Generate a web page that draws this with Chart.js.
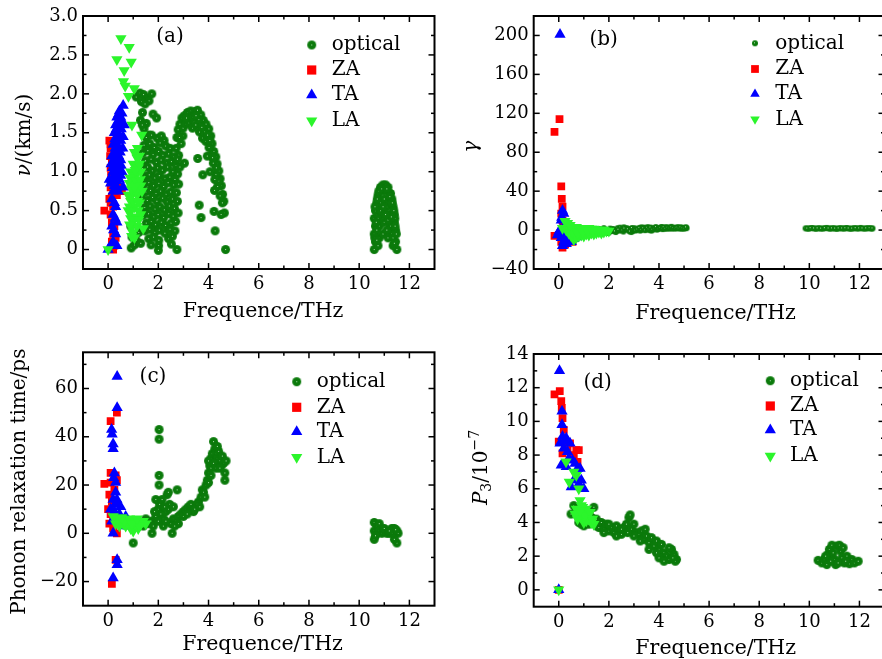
<!DOCTYPE html>
<html>
<head>
<meta charset="utf-8">
<script src="https://cdn.jsdelivr.net/npm/chart.js@4.4.0/dist/chart.umd.min.js"></script>
<style>
  html, body { margin: 0; padding: 0; background: #fff; overflow: hidden; width: 882px; height: 659px; }
  canvas { position: absolute; }
</style>
</head>
<body>
<canvas id="pa" width="441" height="330" style="left:0;top:0"></canvas>
<canvas id="pb" width="450" height="330" style="left:441px;top:0"></canvas>
<canvas id="pc" width="441" height="329" style="left:0;top:330px"></canvas>
<canvas id="pd" width="450" height="329" style="left:441px;top:330px"></canvas>
<script>
// ---- shared axis ticks ----
const freqTicks = [0, 2, 4, 6, 8, 10, 12];
const freqTickLabels = ['0', '2', '4', '6', '8', '10', '12'];
const vTicks = [0, 0.5, 1, 1.5, 2, 2.5, 3];
const vTickLabels = ['0', '0.5', '1.0', '1.5', '2.0', '2.5', '3.0'];
const gammaTicks = [-40, 0, 40, 80, 120, 160, 200];
const gammaTickLabels = ['\u221240', '0', '40', '80', '120', '160', '200'];
const tauTicks = [-20, 0, 20, 40, 60];
const tauTickLabels = ['\u221220', '0', '20', '40', '60'];
const p3Ticks = [0, 2, 4, 6, 8, 10, 12, 14];
const p3TickLabels = ['0', '2', '4', '6', '8', '10', '12', '14'];
const seriesNames = ['optical', 'ZA', 'TA', 'LA'];

// ---- (a) group velocity, [THz, km/s] ----
const opticalA = [
  [0.92,0.02],[1.05,0.06],[0.95,0.16],[1.12,0.12],[1.22,0.22],[0.9,0.3],[1.3,0.08],
  [1.12,1.96],[1.27,2.01],[1.41,1.99],[1.56,1.94],[1.74,2.0],[1.63,1.91],[1.33,1.9],[1.47,1.87],[1.37,1.76],
  [1.29,1.66],[1.52,1.62],[1.79,1.74],[1.93,1.69],[1.43,1.55],[1.61,1.47],[1.36,1.6],
  [1.52,1.44],[1.73,1.47],[1.96,1.43],[2.12,1.46],[2.23,1.4],
  [1.43,1.34],[1.66,1.36],[1.84,1.31],[2.07,1.37],[2.29,1.33],[2.47,1.3],
  [1.38,1.24],[1.58,1.27],[1.79,1.22],[2.01,1.26],[2.18,1.21],[2.41,1.23],[2.62,1.19],
  [1.49,1.14],[1.71,1.16],[1.92,1.12],[2.11,1.15],[2.33,1.11],[2.52,1.13],[2.71,1.08],
  [1.36,1.04],[1.57,1.06],[1.76,1.01],[1.97,1.05],[2.16,1.02],[2.37,1.06],[2.58,1.0],[2.77,0.97],
  [1.46,0.94],[1.64,0.96],[1.86,0.92],[2.04,0.95],[2.27,0.91],[2.46,0.93],[2.66,0.9],
  [1.41,0.84],[1.62,0.86],[1.81,0.82],[2.02,0.85],[2.21,0.81],[2.39,0.86],[2.61,0.83],[2.81,0.84],
  [1.51,0.74],[1.69,0.76],[1.91,0.72],[2.09,0.75],[2.31,0.71],[2.49,0.74],[2.72,0.73],
  [1.34,0.66],[1.56,0.63],[1.77,0.67],[1.94,0.62],[2.17,0.66],[2.36,0.61],[2.56,0.65],[2.76,0.62],
  [1.46,0.54],[1.67,0.56],[1.87,0.52],[2.06,0.55],[2.24,0.51],[2.44,0.56],[2.64,0.53],
  [1.39,0.44],[1.61,0.46],[1.82,0.42],[1.99,0.45],[2.21,0.41],[2.42,0.46],[2.59,0.43],[2.79,0.47],
  [1.52,0.34],[1.72,0.36],[1.89,0.32],[2.12,0.35],[2.29,0.31],[2.51,0.34],[2.69,0.36],
  [1.47,0.24],[1.66,0.26],[1.86,0.22],[2.04,0.25],[2.26,0.21],[2.47,0.26],[2.66,0.24],
  [1.62,0.14],[1.81,0.16],[2.02,0.12],[2.41,0.14],[2.56,0.17],
  [1.71,0.06],[2.01,0.05],[2.52,0.07],[2.0,-0.01],[2.74,0.0],
  [2.71,1.3],[2.74,1.44],[2.79,1.54],[2.86,1.61],[2.94,1.69],[3.04,1.72],[3.16,1.76],[3.29,1.78],[3.44,1.77],
  [3.56,1.79],[3.69,1.73],[3.79,1.66],[3.9,1.61],[4.01,1.55],[4.09,1.46],[4.14,1.36],[4.21,1.26],[4.29,1.19],
  [4.34,1.1],[4.41,1.01],[4.46,0.91],[4.51,0.82],[4.56,0.71],[4.61,0.62],[4.63,0.47],[4.68,0.0],
  [2.99,1.56],[3.1,1.61],[3.21,1.63],[3.36,1.56],[3.49,1.6],[3.64,1.51],[3.76,1.43],[3.89,1.39],[4.02,1.31],
  [4.11,1.21],[4.19,1.11],[4.29,0.96],[4.36,0.81],[4.46,0.69],
  [2.81,1.21],[2.86,1.06],[2.91,1.36],[3.04,1.11],[3.57,1.17],[3.77,0.96],[3.63,0.57],[3.7,0.41],[4.22,0.49],
  [4.26,0.24],[2.98,1.46],[3.26,1.68],[3.61,1.67],[3.84,1.51],[4.06,1.0],[4.24,0.76],[4.5,0.45],[2.76,1.16],
  [3.12,1.69],[3.39,1.7],[3.73,1.57],[3.96,1.47],[4.16,1.18],[4.31,1.05],[4.4,0.88],[2.84,1.44],[4.55,0.6],
  [3.5,1.72],[3.95,1.2],[4.05,1.4],[4.25,0.9],
  [10.6,0.0],[10.65,0.1],[10.6,0.2],[10.65,0.3],[10.6,0.4],[10.65,0.5],[10.7,0.6],[10.75,0.7],[10.85,0.8],
  [10.95,0.83],[11.05,0.83],[11.15,0.8],[11.25,0.72],[11.3,0.65],[11.35,0.55],[11.4,0.45],[11.4,0.35],
  [11.45,0.25],[11.45,0.1],[11.5,0.0],[11.35,0.05],[10.75,0.05],[10.8,0.15],[10.8,0.3],[10.9,0.45],
  [10.85,0.6],[11.0,0.65],[11.1,0.55],[11.2,0.45],[11.25,0.3],[11.3,0.2],[11.0,0.35],[10.95,0.2],
  [11.1,0.25],[11.15,0.15],[10.75,0.4],[11.0,0.75],[11.2,0.6],[10.7,0.25],[11.35,0.15],
  [10.62,0.15],[10.68,0.35],[10.63,0.55],[10.72,0.65],[10.78,0.75],[10.9,0.78],[11.1,0.78],[11.22,0.68],
  [11.32,0.6],[11.38,0.5],[11.42,0.4],[11.43,0.3],[11.48,0.2],[11.4,0.08],[10.7,0.12],[10.85,0.5],
  [11.15,0.38],[11.28,0.42],[10.95,0.55],[11.05,0.45]
];
const zaA = [
  [-0.15,0.5],[0.05,0.65],[0.1,0.6],[0.15,0.68],[0.2,0.55],[0.1,0.45],[0.15,0.35],[0.2,0.2],[0.15,0.1],
  [0.25,0.05],[0.2,0.0],[0.1,0.8],[0.12,0.95],[0.1,1.05],[0.08,1.2],[0.1,1.3],[0.05,1.4],[0.15,1.15],
  [0.2,0.9],[0.3,0.85],[0.45,0.8],[0.55,0.75],[0.35,0.7],[0.25,0.3],[0.3,0.15],[0.1,1.35]
];
const taA = [
  [0.0,0.0],[0.1,0.05],[0.35,0.05],[0.2,0.1],[0.3,0.2],[0.15,0.3],[0.2,0.45],[0.3,0.55],[0.25,0.6],
  [0.2,0.75],[0.35,0.8],[0.6,0.8],[0.05,0.9],[0.15,0.9],[0.3,0.95],[0.45,0.9],[0.2,1.0],[0.4,1.05],
  [0.55,1.0],[0.25,1.1],[0.35,1.15],[0.5,1.15],[0.15,1.2],[0.3,1.25],[0.45,1.3],[0.2,1.35],[0.35,1.4],
  [0.5,1.4],[0.25,1.5],[0.4,1.5],[0.6,1.45],[0.3,1.6],[0.45,1.6],[0.35,1.7],[0.5,1.7],[0.45,1.78],
  [0.6,1.85],[0.55,1.75],[0.4,1.65],[0.65,1.6],[0.28,1.3],[0.42,1.2],[0.18,1.05],[0.5,0.95],[0.1,0.85],
  [0.22,1.12],[0.32,1.02],[0.38,1.32],[0.48,1.25],[0.27,1.42],[0.42,1.42],[0.33,1.55],[0.52,1.55],
  [0.38,1.62],[0.48,1.68],[0.42,1.74],[0.55,1.62],[0.25,1.2],[0.12,1.1],[0.58,1.3],[0.52,1.08],
  [0.35,0.88],[0.25,0.82],[0.4,0.75],[0.15,0.65],[0.28,0.4],[0.22,0.25],[0.35,0.35]
];
const laA = [
  [0.0,0.0],[0.51,2.71],[0.84,2.6],[0.35,2.44],[0.92,2.41],[0.64,2.3],[0.61,2.16],[0.68,2.1],[1.04,2.07],
  [0.81,1.97],[0.95,1.6],[1.34,1.47],[1.17,1.3],[1.05,1.25],[1.25,1.2],[1.0,1.1],[1.2,1.05],[0.9,1.0],
  [1.1,0.95],[1.3,1.0],[0.85,0.85],[1.0,0.85],[1.2,0.85],[0.8,0.7],[0.95,0.7],[1.15,0.7],[1.35,0.75],
  [0.85,0.55],[1.05,0.55],[1.25,0.6],[0.9,0.4],[1.1,0.42],[1.3,0.45],[0.95,0.3],[1.15,0.3],[1.4,0.27],
  [0.94,0.17],[1.05,0.15],[0.8,0.5],[1.0,0.95],[1.1,0.75],[0.9,0.62],[1.2,0.5],
  [0.88,0.92],[1.08,1.02],[1.15,1.18],[0.92,0.78],[1.12,0.88],[1.28,0.9],[0.88,0.48],[1.0,0.62],
  [1.18,0.62],[1.02,0.38],[1.22,0.38],[0.98,0.22],[0.86,0.32],[1.3,0.82],[1.25,1.1],[1.05,0.8]
];

// ---- (b) Grüneisen parameter ----
const opticalB = [
  [1.2,-2],[1.35,0.5],[1.5,-1.5],[1.62,1],[1.75,-2],[1.88,0],[1.95,-3],[2.05,1.5],[2.12,-1],[2.2,0.5],
  [2.28,-2],[2.35,2],[2.42,-0.5],[2.5,1],[2.58,-1.5],[2.65,0.5],[2.72,2],[2.8,-0.5],[2.88,1],[2.95,-1],
  [3.02,2],[3.1,0],[3.18,1.5],[3.25,-0.5],[3.33,1],[3.4,2.5],[3.48,0.5],[3.55,1.5],[3.62,0],[3.7,2],
  [3.78,1],[3.85,2.5],[3.92,0.5],[4.0,1.5],[4.08,2.5],[4.15,1],[4.22,2],[4.3,3],[4.38,1.5],[4.45,2.5],
  [4.52,1.5],[4.6,2.5],[4.68,2],[4.75,3],[4.82,2],[4.9,2.5],[4.97,2],[5.05,2.5],[5.1,2],[2.0,-2.5],
  [2.45,2.5],[2.9,-2],[3.3,2.8],[3.7,-0.5],[4.1,3.2],[1.8,2],[2.6,2.8],[3.55,3],[4.5,3.3],[4.9,1.5],
  [1.42,-0.8],[1.58,0.2],[1.68,-1.1],[1.82,-0.6],[2.02,-0.3],[2.16,1.1],[2.24,-1.3],[2.38,0.4],[2.54,-0.2],
  [2.62,1.6],[2.76,0.8],[2.84,-1.4],[2.92,2.1],[3.06,-0.4],[3.14,0.7],[3.22,2.2],[3.29,0.2],[3.37,1.8],
  [3.44,-0.1],[3.52,2.3],[3.59,0.9],[3.66,2.6],[3.74,0.4],[3.82,1.7],[3.88,3.0],[3.96,1.1],[4.04,2.2],
  [4.12,1.6],[4.19,2.9],[4.26,1.3],[4.34,2.4],[4.41,1.9],[4.48,2.8],[4.56,2.1],[4.64,1.6],[4.71,2.4],
  [4.79,1.7],[4.86,2.8],[4.94,1.9],[5.01,1.6],[5.08,2.8],
  [9.85,1.8],[9.98,1.5],[10.12,2.1],[10.26,1.4],[10.4,1.9],[10.55,1.6],[10.7,2.2],[10.83,1.5],[10.97,1.9],
  [11.1,1.3],[11.24,2.0],[11.38,1.6],[11.5,2.1],[11.64,1.4],[11.78,1.9],[11.92,1.6],[12.05,2.2],[12.2,1.5],
  [12.33,1.9],[12.48,1.6],[9.92,1.6],[10.05,2.0],[10.19,1.7],[10.33,1.8],[10.47,1.5],[10.62,2.0],
  [10.77,1.7],[10.9,1.8],[11.03,1.6],[11.17,1.8],[11.31,1.7],[11.44,1.9],[11.57,1.7],[11.71,1.6],
  [11.85,2.0],[11.99,1.8],[12.12,1.7],[12.27,1.8],[12.41,2.0],[12.52,1.7]
];
const zaB = [
  [-0.17,101],[0.03,114],[0.1,45],[0.12,32],[0.15,24],[0.1,17],[0.15,10],[-0.17,-6],[0.0,-5],[0.15,-18],
  [0.25,-15],[0.55,-12],[0.45,-10],[0.2,5],[0.3,-8],[0.1,-12]
];
const taB = [
  [0.05,201],[0.15,20],[0.2,17],[0.12,13],[0.1,10],[0.0,-2],[-0.05,-5],[0.1,-8],[0.2,-12],[0.3,-14],
  [0.15,-16],[0.25,-10],[0.4,-8],[0.5,-12],[0.6,-9],[0.7,-7],[0.35,-5],[0.2,-3],[0.05,0],[0.25,5]
];
const laB = [
  [0.25,9],[0.35,7],[0.15,2],[0.3,0],[0.4,-3],[0.5,-6],[0.6,-10],[0.7,-8],[0.8,-6],[0.9,-5],[1.0,-6],
  [1.1,-4],[1.2,-5],[1.3,-3],[1.4,-4],[1.5,-3],[1.6,-2],[1.7,-3],[1.8,-2],[1.9,-1],[2.0,-1],[0.5,3],
  [0.6,2],[0.7,3],[0.8,2],[0.9,1],[1.0,2],[1.1,1],[1.2,2],[1.3,1],[1.4,1],[1.5,0],[1.6,0],[1.7,0],
  [1.8,0],[0.55,-2],[0.75,-3],[0.95,-2],[1.15,-1],[1.35,-1],[0.45,5]
];

// ---- (c) relaxation time, ps ----
const opticalC = [
  [1.6,4],[1.7,5],[1.8,3],[1.9,7],[2.0,10],[2.05,12],[2.1,8],[2.2,6],[2.3,9],[2.35,16],[2.4,17],[2.45,12],
  [2.5,4],[2.55,0],[2.6,6],[2.7,5],[2.8,7],[2.9,8],[3.0,9],[3.1,10],[3.2,11],[3.3,10],[3.4,9],[3.5,11],
  [3.6,13],[3.7,15],[3.75,18],[3.8,17],[3.9,20],[3.95,22],[4.0,25],[4.05,28],[4.1,31],[4.15,33],[4.2,38],
  [4.25,35],[4.3,33],[4.35,31],[4.4,34],[4.45,30],[4.5,28],[4.55,32],[4.6,29],[4.65,25],[4.65,22],[4.7,30],
  [4.0,30],[4.1,27],[4.2,29],[4.3,27],[4.45,27],[4.35,36],[1.9,14],[2.0,5],[2.2,3],[2.4,10],[2.3,5],
  [2.6,11],[2.75,18],[2.15,14],[1.75,0],[1.0,-4],[0.8,4],[0.7,6],[1.2,5],[1.4,3],[1.5,6],[2.03,43],
  [2.03,39],[2.03,24],[2.03,20],[3.3,12],[3.55,12],[3.0,7],[2.8,4],[3.15,8],[3.45,10],[3.65,11],[3.85,15],
  [4.0,21],[4.1,24],[2.65,3],[1.85,9],[2.25,11],
  [10.6,4.5],[10.7,3],[10.8,4],[10.6,1],[10.6,-2.5],[10.7,0],[10.8,1],[10.9,0],[11.0,1],[11.1,0],[11.2,0],
  [11.3,2],[11.4,2],[11.5,1],[11.55,0],[11.5,-4],[11.4,-2.5],[11.3,0],[11.45,1.5],[10.65,-1],[11.0,2],[11.2,1]
];
const zaC = [
  [-0.15,20.5],[0.1,46.5],[0.35,50],[0.1,25],[0.3,24],[0.1,21],[0.05,16],[0.15,13],[0.0,10],[0.2,5],
  [0.05,4],[0.35,0],[0.3,-11],[0.15,-21],[0.25,18],[0.35,22],[0.1,8],[0.2,2]
];
const taC = [
  [0.36,65],[0.36,52],[0.14,43],[0.16,41],[0.2,37],[0.2,35],[0.25,25],[0.22,23],[0.3,21],[0.3,17],
  [0.2,14],[0.35,14],[0.4,12],[0.5,11],[0.1,10],[0.25,9],[0.45,8],[0.7,7],[0.15,5],[0.6,3],[0.2,0],
  [0.36,-11],[0.36,-13],[0.2,-18.5],[0.28,12],[0.55,5],[0.8,3]
];
const laC = [
  [0.2,7],[0.35,6],[0.5,5],[0.6,4],[0.7,3],[0.8,4],[0.9,2],[1.0,1],[1.1,3],[1.2,2],[1.3,4],[1.4,5],
  [1.5,4],[0.45,3],[0.65,5],[0.85,6],[1.05,5],[1.25,3],[0.95,4],[1.15,6],[0.55,6.5],[0.3,4]
];

// ---- (d) phase space P3, 1e-7 ----
const opticalD = [
  [0.49,4.5],[0.6,5.0],[0.7,4.8],[0.8,4.0],[0.9,3.9],[1.0,3.8],[1.1,4.0],[1.2,3.9],[1.3,4.3],[1.4,4.9],
  [1.5,3.8],[1.6,3.7],[1.7,4.0],[1.8,3.6],[1.9,3.9],[2.0,3.5],[2.1,3.7],[2.2,3.4],[2.3,3.8],[2.4,3.5],
  [2.5,3.3],[2.6,3.7],[2.7,3.9],[2.8,4.3],[2.85,4.45],[2.9,3.6],[3.0,3.9],[3.1,3.4],[3.2,3.3],[3.3,3.5],
  [3.4,3.0],[3.5,3.2],[3.6,2.8],[3.7,3.1],[3.8,2.6],[3.9,2.9],[4.0,2.4],[4.1,2.7],[4.2,2.2],[4.3,2.0],
  [4.4,1.8],[4.5,2.4],[4.6,2.1],[4.7,1.8],[4.65,1.7],[4.0,1.9],[4.2,1.7],[3.9,2.2],[3.6,2.4],[3.45,3.6],
  [3.25,2.9],[2.5,3.6],[2.0,3.9],[1.8,3.4],[2.3,3.2],[3.0,3.2],[2.75,3.4],[1.5,4.2],[1.2,4.6],[4.4,2.5],
  [4.55,1.9],
  [10.35,1.75],[10.5,1.6],[10.6,1.8],[10.7,1.5],[10.75,2.1],[10.8,2.4],[10.9,2.65],[10.95,2.2],[11.0,1.8],
  [11.05,1.5],[11.1,2.6],[11.2,2.65],[11.25,2.3],[11.3,1.9],[11.35,2.5],[11.4,1.6],[11.5,2.0],[11.6,1.55],
  [11.7,1.8],[11.8,1.6],[11.95,1.7],[10.85,1.7],[11.15,1.6],[11.45,1.7],[10.65,2.0]
];
const zaD = [
  [-0.17,11.6],[0.04,11.8],[0.1,11.2],[0.12,10.8],[0.15,10.2],[0.2,9.5],[0.0,8.8],[0.25,8.5],[0.15,8.1],
  [0.45,8.7],[0.35,8.4],[0.7,8.3],[0.8,8.3],[0.75,7.6],[0.6,8.0],[0.0,0.0]
];
const taD = [
  [0.03,13],[0.13,10.6],[0.13,9.8],[0.15,9.1],[0.05,8.7],[0.25,8.8],[0.45,8.7],[0.35,8.2],[0.2,8.4],
  [0.1,7.4],[0.3,7.3],[0.55,7.7],[0.65,7.5],[0.75,7.2],[0.85,7.2],[0.7,6.7],[0.5,6.1],[0.6,6.5],[0.8,6.3],
  [1.0,6.0],[0.9,6.5],[0.4,7.8],[0.0,0.0],[0.3,9.0]
];
const laD = [
  [0.0,0.0],[0.29,7.6],[0.42,6.4],[0.6,7.0],[0.7,6.8],[0.8,6.0],[0.85,5.3],[0.9,5.0],[0.7,4.8],[0.8,4.5],
  [0.9,4.3],[1.0,4.0],[1.0,4.6],[1.1,4.8],[1.2,4.2],[1.3,4.0],[1.4,3.9],[1.1,4.1],[1.2,4.5],[0.75,4.2],
  [0.95,4.9],[1.05,4.4],[1.25,4.6],[0.65,4.5],[1.35,4.2],[0.85,4.7]
];

const SERIF = '"DejaVu Serif", serif';
const GREEN = '#0b7a0b';
const LIME = '#2bf52b';

// shaded sphere used for the optical branch
function makeBall(d) {
  const c = document.createElement('canvas');
  c.width = c.height = d + 2;
  const g = c.getContext('2d');
  const m = (d + 2) / 2;
  g.fillStyle = GREEN;
  g.beginPath(); g.arc(m, m, d / 2, 0, Math.PI * 2); g.fill();
  g.fillStyle = 'rgba(210,245,210,0.85)';
  g.fillRect(Math.round(m - 1), Math.round(m - 1), 1, 1);
  return c;
}

function drawRich(ctx, parts, x, y, angle) {
  ctx.save();
  ctx.translate(x, y);
  ctx.rotate(angle);
  let total = 0;
  parts.forEach(p => { ctx.font = p.font; p.w = ctx.measureText(p.t).width; total += p.w; });
  let cx = -total / 2;
  ctx.textBaseline = 'middle';
  ctx.textAlign = 'left';
  ctx.fillStyle = '#000';
  parts.forEach(p => { ctx.font = p.font; ctx.fillText(p.t, cx, p.dy || 0); cx += p.w; });
  ctx.restore();
}

function marker(ctx, kind, x, y, ball, r) {
  if (kind === 0) { ctx.drawImage(ball, x - ball.width / 2, y - ball.height / 2); return; }
  ctx.beginPath();
  if (kind === 1) {
    ctx.fillStyle = '#ff0000';
    const s = r * Math.SQRT1_2;
    ctx.rect(x - s, y - s, 2 * s, 2 * s);
  } else {
    const up = kind === 2 ? -1 : 1;
    ctx.fillStyle = kind === 2 ? '#0000ff' : LIME;
    ctx.moveTo(x, y + up * r);
    ctx.lineTo(x + r * 0.866, y - up * r * 0.5);
    ctx.lineTo(x - r * 0.866, y - up * r * 0.5);
    ctx.closePath();
  }
  ctx.fill();
}

// frame with inward ticks on all sides, then labels, legend and titles
const decor = {
  id: 'decor',
  afterDatasetsDraw(chart, args, o) {
    const { ctx, chartArea: a, scales: { x, y } } = chart;
    ctx.save();
    ctx.strokeStyle = '#000';
    const seg = (x1, y1, x2, y2) => { ctx.beginPath(); ctx.moveTo(x1, y1); ctx.lineTo(x2, y2); ctx.stroke(); };
    ctx.lineWidth = 1.5;
    const isMajor = (v, step) => Math.abs(v / step - Math.round(v / step)) < 1e-6;
    for (let n = Math.ceil(x.min); n <= x.max; n++) {
      const px = x.getPixelForValue(n);
      if (px <= a.left + 1 || px >= a.right - 1) continue;
      const len = isMajor(n, 2) ? 6 : 3.5;
      seg(px, a.bottom, px, a.bottom - len);
      seg(px, a.top, px, a.top + len);
    }
    for (let n = Math.ceil(y.min / o.yMinor - 1e-9); n * o.yMinor <= y.max + 1e-9; n++) {
      const v = n * o.yMinor;
      const py = y.getPixelForValue(v);
      if (py <= a.top + 1 || py >= a.bottom - 1) continue;
      const len = isMajor(v, o.yMajor) ? 6 : 3.5;
      seg(a.left, py, a.left + len, py);
      seg(a.right, py, a.right - len, py);
    }
    ctx.lineWidth = 2;
    ctx.strokeRect(a.left, a.top, a.right - a.left, a.bottom - a.top);

    ctx.fillStyle = '#000';
    ctx.font = '20px ' + SERIF;
    ctx.textAlign = 'center';
    ctx.textBaseline = 'middle';
    ctx.fillText(o.tag, o.tagAt[0], o.tagAt[1]);

    const lg = o.legend;
    seriesNames.forEach((name, i) => {
      const ly = lg.rows[i];
      marker(ctx, i, lg.x, ly, o.ball, lg.r);
      ctx.fillStyle = '#000';
      ctx.font = '20px ' + SERIF;
      ctx.textAlign = 'left';
      ctx.textBaseline = 'middle';
      ctx.fillText(name, lg.textX, ly);
    });

    drawRich(ctx, [{ t: 'Frequence/THz', font: '20.5px ' + SERIF }], o.xTitle[0], o.xTitle[1], 0);
    drawRich(ctx, o.yTitle, o.yTitleAt[0], o.yTitleAt[1], -Math.PI / 2);
    ctx.restore();
  }
};

const ballBig = makeBall(9);
const ballSmall = makeBall(6);
const plain = '20px ' + SERIF;
const italic = 'italic 20px ' + SERIF;

const panels = [
  {
    id: 'pa', area: { left: 83, top: 16, right: 437.5, bottom: 269 },
    yMin: -0.25, yMax: 3, yTicks: vTicks, yLabels: vTickLabels, yMinor: 0.25, yMajor: 0.5,
    series: [opticalA, zaA, taA, laA], ball: ballBig, tag: '(a)', tagAt: [170, 37],
    legend: { x: 311.7, textX: 331.7, rows: [45, 70, 95, 120.7], r: 6.5 },
    xTitle: [263, 312], yTitleAt: [25, 135],
    yTitle: [{ t: '\u03bd', font: italic }, { t: '/(km/s)', font: plain }]
  },
  {
    id: 'pb', area: { left: 92.7, top: 16, right: 446.9, bottom: 269 },
    yMin: -40, yMax: 220, yTicks: gammaTicks, yLabels: gammaTickLabels, yMinor: 20, yMajor: 40,
    series: [opticalB, zaB, taB, laB], ball: ballSmall, tag: '(b)', tagAt: [162.7, 39.3],
    legend: { x: 314, textX: 334.3, rows: [43.3, 69, 94, 119.3], r: 5.5 },
    xTitle: [274.5, 313.3], yTitleAt: [30.7, 146.7],
    yTitle: [{ t: '\u03b3', font: italic }]
  },
  {
    id: 'pc', area: { left: 83, top: 22.3, right: 437.5, bottom: 275.7 },
    yMin: -30, yMax: 75, yTicks: tauTicks, yLabels: tauTickLabels, yMinor: 10, yMajor: 20,
    series: [opticalC, zaC, taC, laC], ball: ballBig, tag: '(c)', tagAt: [153, 47],
    legend: { x: 296.7, textX: 316.7, rows: [51.7, 77.3, 101.7, 127.3], r: 6.5 },
    xTitle: [262.5, 315], yTitleAt: [20, 151.7],
    yTitle: [{ t: 'Phonon relaxation time/ps', font: plain }]
  },
  {
    id: 'pd', area: { left: 92.7, top: 24, right: 446.9, bottom: 276.7 },
    yMin: -1, yMax: 14, yTicks: p3Ticks, yLabels: p3TickLabels, yMinor: 1, yMajor: 2,
    series: [opticalD, zaD, taD, laD], ball: ballBig, tag: '(d)', tagAt: [156.7, 53],
    legend: { x: 329.3, textX: 349, rows: [50.7, 76, 100, 126], r: 6.5 },
    xTitle: [274.7, 318.3], yTitleAt: [41, 137.5],
    yTitle: [
      { t: 'P', font: italic },
      { t: '3', font: '14px ' + SERIF, dy: 5 },
      { t: '/10', font: plain },
      { t: '\u22127', font: '14px ' + SERIF, dy: -7 }
    ]
  }
];

panels.forEach(p => {
  const canvas = document.getElementById(p.id);
  const W = canvas.width, H = canvas.height;
  const pts = arr => arr.map(([x, y]) => ({ x, y }));
  const tickFont = { family: SERIF, size: 18 };
  new Chart(canvas, {
    type: 'scatter',
    data: {
      datasets: [
        { label: 'optical', data: pts(p.series[0]), pointStyle: p.ball, pointRadius: 4, order: 3 },
        { label: 'ZA', data: pts(p.series[1]), pointStyle: 'rect', pointRadius: 5.5,
          backgroundColor: '#ff0000', borderWidth: 0, order: 2 },
        { label: 'TA', data: pts(p.series[2]), pointStyle: 'triangle', pointRadius: 6.5,
          backgroundColor: '#0000ff', borderWidth: 0, order: 1 },
        { label: 'LA', data: pts(p.series[3]), pointStyle: 'triangle', rotation: 180, pointRadius: 6.5,
          backgroundColor: LIME, borderWidth: 0, order: 0 }
      ]
    },
    options: {
      responsive: false,
      animation: false,
      events: [],
      layout: { padding: { left: 0, top: p.area.top, right: W - p.area.right, bottom: 0 } },
      plugins: { legend: { display: false }, tooltip: { enabled: false }, decor: p },
      scales: {
        x: {
          type: 'linear', min: -1, max: 13,
          grid: { display: false, drawTicks: false }, border: { display: false },
          afterBuildTicks: s => { s.ticks = freqTicks.map(v => ({ value: v })); },
          afterFit: s => { s.height = H - p.area.bottom; },
          ticks: { autoSkip: false, maxRotation: 0, padding: 5, color: '#000', font: tickFont,
                   callback: (v, i) => freqTickLabels[i] }
        },
        y: {
          type: 'linear', min: p.yMin, max: p.yMax,
          grid: { display: false, drawTicks: false }, border: { display: false },
          afterBuildTicks: s => { s.ticks = p.yTicks.map(v => ({ value: v })); },
          afterFit: s => { s.width = p.area.left; },
          ticks: { autoSkip: false, padding: 5, color: '#000', font: tickFont,
                   callback: (v, i) => p.yLabels[i] }
        }
      }
    },
    plugins: [decor]
  });
});
</script>
</body>
</html>
